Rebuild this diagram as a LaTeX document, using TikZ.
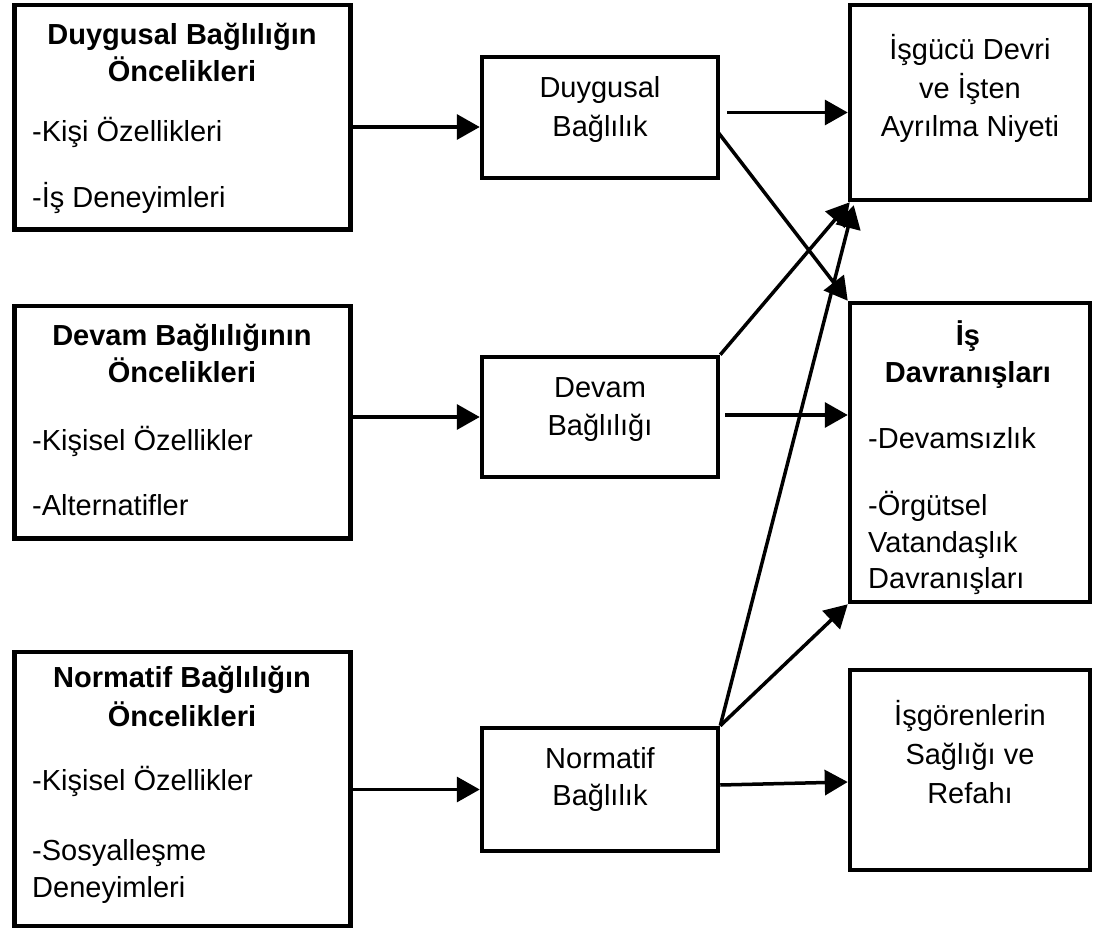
\documentclass[tikz,border=0pt]{standalone}
\usepackage{fontspec}
\setmainfont{Liberation Sans}
\usetikzlibrary{arrows.meta,calc}
\begin{document}
\begin{tikzpicture}[x=1pt,y=-1pt,
  box/.style={draw,line width=4.5pt,inner sep=0pt,outer sep=2.25pt},
  txt/.style={inner sep=0pt,font=\fontsize{29}{35}\selectfont},
  hd/.style={inner sep=0pt,font=\fontsize{29}{35}\selectfont\bfseries,anchor=base},
  ctr/.style={txt,anchor=base},
  lft/.style={txt,anchor=base west},
  arr/.style={line width=3.5pt,-{Triangle[length=23pt,width=25pt]}}]
\useasboundingbox (0,0) rectangle (1095,933);

% boxes
\node[box,minimum width=336pt,minimum height=224.5pt] (A1) at (182.5,117.25) {};
\node[box,minimum width=336pt,minimum height=232.5pt] (A2) at (182.5,422.25) {};
\node[box,minimum width=336pt,minimum height=274pt] (A3) at (182.5,789) {};
\node[box,minimum width=236pt,minimum height=121pt] (B1) at (600,117.5) {};
\node[box,minimum width=236pt,minimum height=120pt] (B2) at (600,417) {};
\node[box,minimum width=236pt,minimum height=123pt] (B3) at (600,789.5) {};
\node[box,minimum width=240pt,minimum height=195pt] (C1) at (970,102.5) {};
\node[box,minimum width=240pt,minimum height=299pt] (C2) at (970,452.5) {};
\node[box,minimum width=240pt,minimum height=200pt] (C3) at (970,770) {};

% texts A1
\node[hd] (a1t1) at (182,45) {Duygusal Bağlılığın};
\node[hd] (a1t2) at (182,82) {Öncelikleri};
\node[lft] (a1i1) at (32,142) {-Kişi Özellikleri};
\node[lft] (a1i2) at (32,208) {-İş Deneyimleri};
% texts A2
\node[hd] (a2t1) at (182,345) {Devam Bağlılığının};
\node[hd] (a2t2) at (182,382) {Öncelikleri};
\node[lft] (a2i1) at (32,450) {-Kişisel Özellikler};
\node[lft] (a2i2) at (32,515) {-Alternatifler};
% texts A3
\node[hd] (a3t1) at (182,687) {Normatif Bağlılığın};
\node[hd] (a3t2) at (182,726) {Öncelikleri};
\node[lft] (a3i1) at (32,790) {-Kişisel Özellikler};
\node[lft] (a3i2) at (32,860) {-Sosyalleşme};
\node[lft] (a3i3) at (32,897) {Deneyimleri};
% texts B
\node[ctr] (b1t1) at (600,98) {Duygusal};
\node[ctr] (b1t2) at (600,137) {Bağlılık};
\node[ctr] (b2t1) at (600,397) {Devam};
\node[ctr] (b2t2) at (600,435) {Bağlılığı};
\node[ctr] (b3t1) at (600,768) {Normatif};
\node[ctr] (b3t2) at (600,805) {Bağlılık};
% texts C
\node[ctr] (c1t1) at (970,60) {İşgücü Devri};
\node[ctr] (c1t2) at (970,99) {ve İşten};
\node[ctr] (c1t3) at (970,137) {Ayrılma Niyeti};
\node[hd] (c2t1) at (968,345) {İş};
\node[hd] (c2t2) at (968,382) {Davranışları};
\node[lft] (c2i1) at (868,448) {-Devamsızlık};
\node[lft] (c2i2) at (868,515) {-Örgütsel};
\node[lft] (c2i3) at (868,552) {Vatandaşlık};
\node[lft] (c2i4) at (868,588) {Davranışları};
\node[ctr] (c3t1) at (970,725) {İşgörenlerin};
\node[ctr] (c3t2) at (970,764) {Sağlığı ve};
\node[ctr] (c3t3) at (970,803) {Refahı};

% connectors
\coordinate (m1) at ($(B1.west)+(0,9.5)$);
\draw[arr] (m1 -| A1.east) -- (m1);
\draw[arr] (B2.west -| A2.east) -- (B2.west);
\draw[arr] (B3.west -| A3.east) -- (B3.west);

\coordinate (p1) at ($(B1.east)+(7,-5)$);
\draw[arr] (p1) -- (p1 -| C1.west);
\coordinate (q1) at ($(B1.east)+(-2,15)$);
\draw[arr] (q1) -- (C2.north west);

\draw[arr] (B2.north east) -- ($(C1.south west)+(2,0)$);
\coordinate (p2) at ($(B2.east)+(5,-2)$);
\draw[arr] (p2) -- (p2 -| C2.west);

\draw[arr] (B3.north east) -- ($(C1.south west)+(6,3)$);
\draw[arr] (B3.north east) -- (C2.south west);
\coordinate (p3) at ($(B3.east)+(0,-4.5)$);
\coordinate (p4) at ($(C3.west)+(0,12)$);
\draw[arr] (p3) -- (p4);
\end{tikzpicture}
\end{document}
